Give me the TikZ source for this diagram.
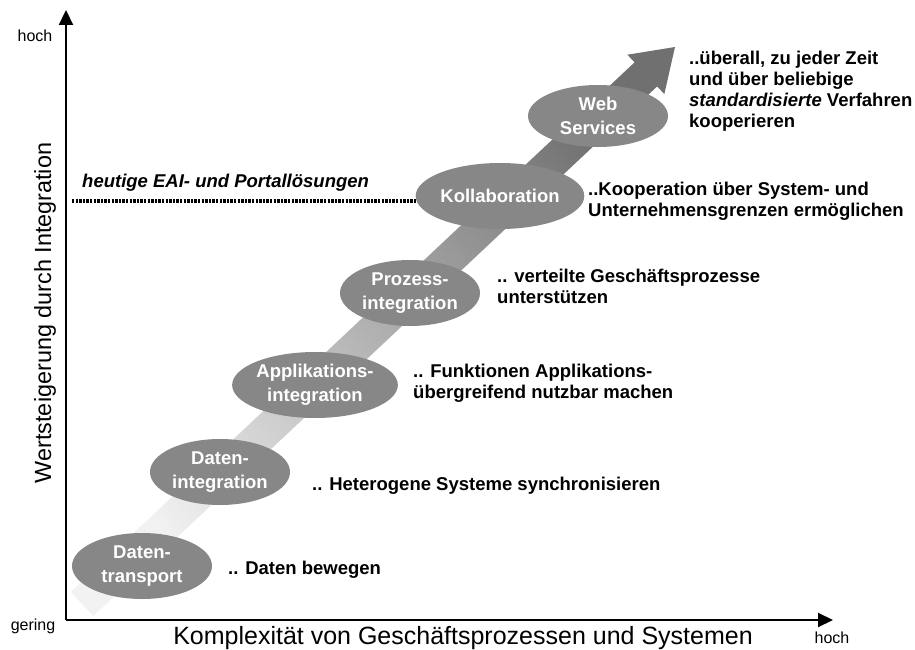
\documentclass[tikz,border=0pt]{standalone}
\usepackage{fontspec}
\setmainfont{Liberation Sans}
\usetikzlibrary{arrows.meta,calc,shapes.geometric}
\newcommand{\mylines}[1]{\begin{tabular}[t]{@{}l@{}}#1\end{tabular}}
\begin{document}
\begin{tikzpicture}[x=1pt,y=-1pt,
  stage/.style={ellipse, fill=black!47, text=white, inner sep=0pt,
    minimum width=140pt, minimum height=66pt, align=center,
    font=\fontsize{18.5}{23.5}\selectfont\bfseries},
  desc/.style={anchor=base west, inner sep=0pt,
    font=\fontsize{18.5}{21}\selectfont\bfseries},
  small/.style={inner sep=0pt, font=\fontsize{16}{18}\selectfont},
  axislabel/.style={inner sep=0pt, anchor=base},
  axisline/.style={line width=2.2pt, -{Triangle[length=15pt,width=14pt]}},
  dotline/.style={line width=3.4pt, dash pattern=on 2.4pt off 1.2pt}
]
\useasboundingbox (0,0) rectangle (915,650);

% big shaded arrow
\coordinate (A) at (82,604);
\coordinate (T) at (675,47);
\coordinate (B) at ($(T)!40pt!(A)$);
\coordinate (a1) at ($(A)!16.5pt!90:(T)$);
\coordinate (a2) at ($(A)!16.5pt!-90:(T)$);
\coordinate (b1) at ($(B)!16.5pt!90:(T)$);
\coordinate (b2) at ($(B)!16.5pt!-90:(T)$);
\coordinate (h1) at ($(B)!27pt!90:(T)$);
\coordinate (h2) at ($(B)!27pt!-90:(T)$);
\shade[bottom color=black!5, top color=black!56, shading angle=-48]
  (a1) -- (b1) -- (h1) -- (T) -- (h2) -- (b2) -- (a2) -- cycle;

% stages
\node[stage] (dt) at (142,566) {Daten-\\transport};
\node[stage] (di) at (220,472) {Daten-\\integration};
\node[stage, minimum width=136pt] (ai) at (315,385) {Applikations-\\integration};
\node[stage] (pi) at (410,293) {Prozess-\\integration};
\node[stage] (ko) at (500,196) {Kollaboration};
\node[stage, minimum height=62pt] (ws) at (598,116) {Web\\Services};

% dotted line
\coordinate (dl) at (72,201);
\draw[dotline] (dl) -- (dl -| ko.west);
\node[desc, font=\fontsize{18.5}{21}\selectfont\bfseries\itshape] (eai) at (82,187) {heutige EAI- und Portallösungen};

% axes
\coordinate (O) at (66,620);
\coordinate (yt) at (66,10);
\coordinate (xt) at (833,620);
\draw[axisline] (O) -- (yt);
\draw[axisline, line width=2pt] (O) -- (xt);

\node[small] (yhoch) at (35,36) {hoch};
\node[small] (gering) at (33,626) {gering};
\node[small] (xhoch) at (832,638) {hoch};
\node[axislabel, font=\fontsize{25}{28}\selectfont] (xlab) at (463,644) {Komplexität von Geschäftsprozessen und Systemen};
\node[axislabel, rotate=90, font=\fontsize{23.4}{26}\selectfont] (ylab) at (51,313) {Wertsteigerung durch Integration};

% descriptions
\node[desc] (d1) at (228,574) {.. Daten bewegen};
\node[desc] (d2) at (312,490) {.. Heterogene Systeme synchronisieren};
\node[desc] (d3) at (413,377) {\mylines{.. Funktionen Applikations-\\übergreifend nutzbar machen}};
\node[desc] (d4) at (497,282) {\mylines{.. verteilte Geschäftsprozesse\\unterstützen}};
\node[desc] (d5) at (588,195) {\mylines{..Kooperation über System- und\\Unternehmensgrenzen ermöglichen}};
\node[desc] (d6) at (689,65) {\mylines{..überall, zu jeder Zeit\\und über beliebige\\\textit{standardisierte} Verfahren\\kooperieren}};
\end{tikzpicture}
\end{document}
